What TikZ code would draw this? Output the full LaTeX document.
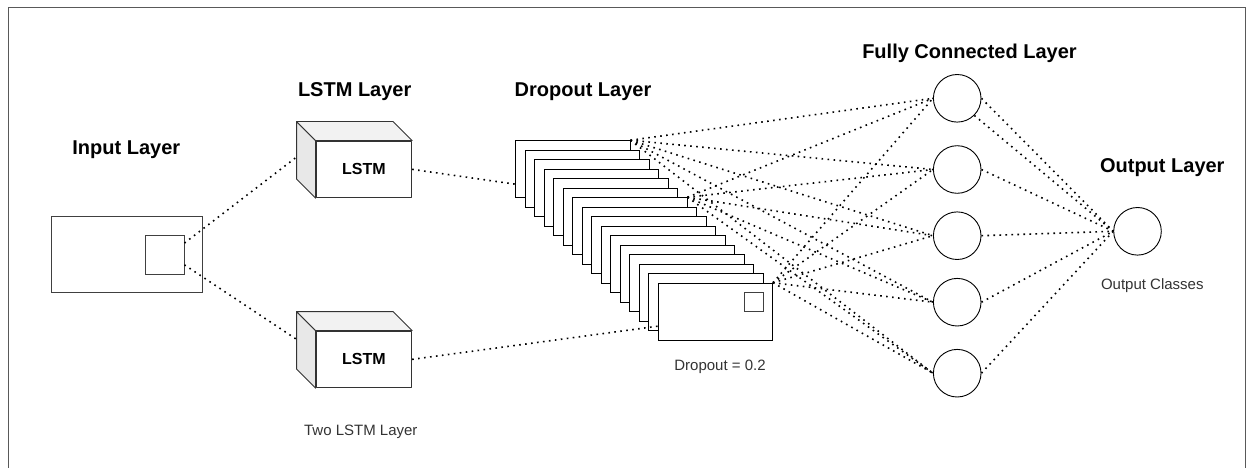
\documentclass[tikz,border=0pt]{standalone}
\usepackage{fontspec}
\setmainfont{Liberation Sans}
\usetikzlibrary{calc}
\begin{document}
\begin{tikzpicture}[x=1pt,y=-1pt,
  title/.style={font=\bfseries\fontsize{20}{24}\selectfont, text=black, anchor=base, inner sep=0pt},
  note/.style={font=\fontsize{15}{18}\selectfont, text=black!80, anchor=base, inner sep=0pt},
  face/.style={draw=black!80, line width=0.9pt, line join=round},
  frontface/.style={face, fill=white, minimum width=95.7pt, minimum height=56.7pt,
    inner sep=0pt, font=\bfseries\fontsize{16}{19}\selectfont},
  card/.style={draw=black, fill=white, line width=0.9pt, minimum width=114.3pt,
    minimum height=57pt, inner sep=0pt},
  neuron/.style={circle, draw=black, fill=white, line width=0.9pt, minimum size=47.6pt, inner sep=0pt},
  sqbox/.style={draw=black!75, line width=0.9pt, inner sep=0pt},
  conn/.style={line width=1.6pt, dash pattern=on 1.6pt off 4.4pt}
]
\useasboundingbox (0,0) rectangle (1247,468);

% outer frame, open at the bottom edge of the page
\begin{scope}
  \clip (0,0) rectangle (1247,468);
  \draw[draw=black!65, line width=1pt] (8,8) rectangle (1245,490);
\end{scope}

% input layer
\node[sqbox, minimum width=151.7pt, minimum height=76pt] (inp) at (126.85,254.7) {};
\node[sqbox, minimum size=38.3pt] (inpsq) at (164.85,254.85) {};
\node[title] (tin) at (126.3,154.5) {Input Layer};

% LSTM cubes: front face as node, side and top faces drawn from its corners
\node[frontface] (lstmA) at (363.85,169.35) {LSTM};
\node[frontface] (lstmB) at (363.85,359.35) {LSTM};
\foreach \c in {lstmA,lstmB}{
  \filldraw[face, fill=black!9] (\c.north west) -- ++(-19,-19)
    -- ($(\c.south west)+(-19,-19)$) -- (\c.south west) -- cycle;
  \filldraw[face, fill=black!5] (\c.north west) -- ++(-19,-19)
    -- ($(\c.north east)+(-19,-19)$) -- (\c.north east) -- cycle;
}
\node[title] (tlstm) at (354.7,96.5) {LSTM Layer};
\node[note] (nlstm) at (360.8,435) {Two LSTM Layer};

% dropout stack
\foreach \k in {0,...,15}
  \node[card] (card\k) at (572.85+9.5*\k, 169.2+9.5*\k) {};
\node[sqbox, minimum size=19.3pt] (dsq) at ($(card15.north east)+(-19.3,19.1)$) {};
\node[title] (tdrop) at (583,96.7) {Dropout Layer};
\node[note] (ndrop) at (720,370) {Dropout = 0.2};

% fully connected and output neurons
\foreach \i/\y in {1/98.3,2/169.5,3/235.7,4/302.2,5/373.2}
  \node[neuron] (fc\i) at (957.2,\y) {};
\node[neuron] (out) at (1137.5,231.3) {};
\node[title] (tfc) at (969.5,58.3) {Fully Connected Layer};
\node[title] (tout) at (1162.3,172.7) {Output Layer};
\node[note] (nout) at (1152.3,289.3) {Output Classes};

% connectors
\draw[conn] ($(inpsq.east)+(0,-11.8)$) -- ($(lstmA.west)+(-19,-12.3)$);
\draw[conn] ($(inpsq.east)+(0,10)$) -- ($(lstmB.west)+(-19,-20)$);
\draw[conn] (lstmA.east) -- ($(card0.west)+(0,15)$);
\draw[conn] (lstmB.east) -- ($(card15.west)+(0,14.5)$);
\foreach \k in {0,6,15}
  \foreach \i in {1,...,5}
    \draw[conn] (card\k.north east) -- (fc\i.west);
\foreach \i in {1,...,5}
  \draw[conn] (fc\i.east) -- (out.west);
\draw[conn] (fc1.south east) -- (out.west);
\end{tikzpicture}
\end{document}
